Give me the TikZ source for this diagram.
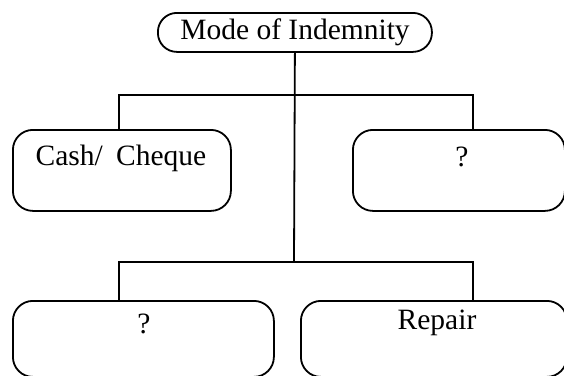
\documentclass[tikz,border=0pt]{standalone}
\usepackage{fontspec}
\setmainfont{Liberation Serif}
\begin{document}
\begin{tikzpicture}[x=1pt,y=-1pt,
  line width=1.8pt,
  box/.style={draw, rounded corners=20pt, inner sep=0pt, anchor=north west},
  label/.style={font=\fontsize{29.5}{31}\selectfont, inner sep=0pt, anchor=center}]
\useasboundingbox (0,0) rectangle (564,375);
\begin{scope}
\clip (0,0) rectangle (564,375);
% title box
\node[draw, rounded corners=19pt, inner sep=0pt, minimum width=274pt, minimum height=39pt,
      anchor=north west] (top) at (157,12) {};
\node[label] (topT) at (295,32) {Mode of Indemnity};
% first row
\node[box, minimum width=218pt, minimum height=81pt] (cash) at (12,129) {};
\node[label] (cashT) at (121,158) {Cash/\hspace{0.45em}Cheque};
\node[box, minimum width=212pt, minimum height=81pt] (qa) at (352,129) {};
\node[label] (qaT) at (462,157) {?};
% second row
\node[box, minimum width=261pt, minimum height=76pt] (qb) at (12,300) {};
\node[label] (qbT) at (144,324) {?};
\node[box, minimum width=266pt, minimum height=76pt] (rep) at (300,300) {};
\node[label] (repT) at (437,323) {Repair};
\end{scope}
% connectors
\coordinate (j1) at (294,95);
\coordinate (j2) at (294,262);
\draw (top.south) -- (j2);
\draw ([xshift=-3pt]cash.north) |- (j1) -| ([xshift=14pt]qa.north);
\draw ([xshift=-24.5pt]qb.north) |- (j2) -| ([xshift=39pt]rep.north);
\end{tikzpicture}
\end{document}
